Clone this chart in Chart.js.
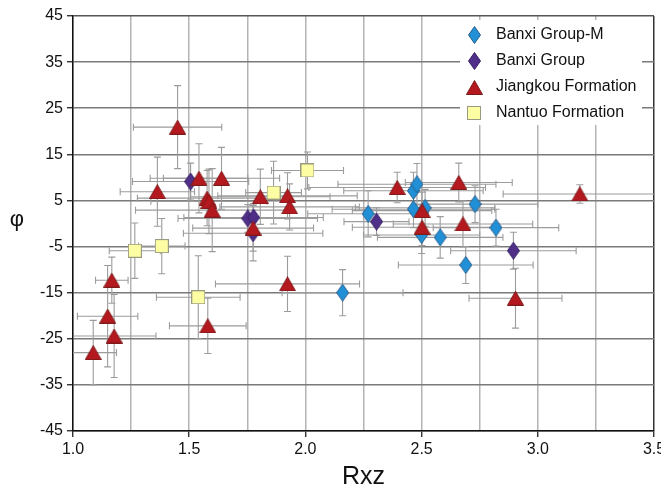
<!DOCTYPE html>
<html>
<head>
<meta charset="utf-8">
<script src="https://cdn.jsdelivr.net/npm/chart.js@4.4.1/dist/chart.umd.min.js"></script>
<style>
  html, body { margin: 0; padding: 0; background: #ffffff; }
  #wrap { width: 661px; height: 494px; position: relative; }
</style>
</head>
<body>
<div id="wrap"><canvas id="c" width="661" height="494"></canvas></div>
<script>
// ---------- data ----------
const seriesNames = ['Banxi Group-M', 'Banxi Group', 'Jiangkou Formation', 'Nantuo Formation'];
const xTickLabels = ['1.0', '1.5', '2.0', '2.5', '3.0', '3.5'];
const yTickLabels = ['45', '35', '25', '15', '5', '-5', '-15', '-25', '-35', '-45'];

const banxiMRxz    = [2.16, 2.27, 2.465, 2.48, 2.465, 2.515, 2.50, 2.58, 2.73, 2.82, 2.69];
const banxiMPhi    = [-15, 2.1, 7.1, 8.5, 3.1, 3.4, -2.5, -3.0, 4.2, -0.9, -9.0];
const banxiMErrRxz = [0.26, 0.26, 0.3, 0.34, 0.35, 0.3, 0.25, 0.27, 0.27, 0.27, 0.29];
const banxiMErrPhi = [5, 5, 4, 4.5, 4, 4, 4, 4.5, 4, 4, 4];

const banxiRxz    = [1.506, 1.752, 1.777, 1.775, 2.306, 2.895];
const banxiPhi    = [9.1, 1.1, 1.3, -2.1, 0.4, -5.9];
const banxiErrRxz = [0.25, 0.3, 0.3, 0.3, 0.14, 0.27];
const banxiErrPhi = [4, 3, 3, 6, 3, 4];

const jiangkouRxz    = [1.087, 1.149, 1.177, 1.167, 1.363, 1.45, 1.542, 1.639, 1.577, 1.585, 1.599, 1.775, 1.806, 1.923, 1.932, 1.923, 1.58, 2.395, 2.502, 2.502, 2.66, 2.678, 3.181, 2.904];
const jiangkouPhi    = [-28, -20.1, -24.4, -12.3, 6.9, 20.9, 9.8, 9.8, 5.5, 4.8, 2.9, -1.0, 5.8, 6.0, 3.6, -13.1, -22.2, 7.8, 2.8, -0.8, 8.9, -0.1, 6.4, -16.2];
const jiangkouErrRxz = [0.1, 0.13, 0.18, 0.07, 0.16, 0.19, 0.21, 0.25, 0.3, 0.25, 0.33, 0.26, 0.3, 0.3, 0.3, 0.31, 0.165, 0.38, 0.3, 0.3, 0.23, 0.3, 0.33, 0.2];
const jiangkouErrPhi = [7, 11, 9, 5, 7.5, 9, 7.5, 6.7, 6, 7, 9, 5, 6, 5, 5, 6, 6, 3.3, 4, 4, 4.2, 5, 2, 6.5];

const nantuoRxz    = [1.266, 1.382, 1.539, 1.863, 2.009];
const nantuoPhi    = [-5.9, -4.9, -16.0, 6.7, 11.5];
const nantuoErrRxz = [0.11, 0.1, 0.18, 0.12, 0.155];
const nantuoErrPhi = [6, 6, 9, 6.8, 4];

// ---------- marker images ----------
function makeCanvas(w, h) { const c = document.createElement('canvas'); c.width = w; c.height = h; return c; }
function diamond(fill, stroke) {
  const c = makeCanvas(13, 18), g = c.getContext('2d');
  g.beginPath(); g.moveTo(6.5, 0.5); g.lineTo(12.5, 9); g.lineTo(6.5, 17.5); g.lineTo(0.5, 9); g.closePath();
  g.fillStyle = fill; g.fill(); g.strokeStyle = stroke; g.lineWidth = 1; g.stroke(); return c;
}
function triangle(fill, stroke) {
  const c = makeCanvas(17, 15), g = c.getContext('2d');
  g.beginPath(); g.moveTo(8.5, 0.5); g.lineTo(16.5, 14.5); g.lineTo(0.5, 14.5); g.closePath();
  g.fillStyle = fill; g.fill(); g.strokeStyle = stroke; g.lineWidth = 1; g.stroke(); return c;
}
function square(fill, stroke) {
  const c = makeCanvas(14, 14), g = c.getContext('2d');
  g.fillStyle = fill; g.fillRect(0.5, 0.5, 13, 13);
  g.strokeStyle = stroke; g.lineWidth = 1; g.strokeRect(0.5, 0.5, 13, 13); return c;
}
const markers = [
  diamond('#2190d6', '#2a5f8f'),
  diamond('#4f2f87', '#3a2368'),
  triangle('#b3191f', '#7e1a1a'),
  square('#fdfda3', '#9a9a80')
];

function pts(xs, ys, exs, eys) { return xs.map((v, i) => ({ x: v, y: ys[i], ex: exs[i], ey: eys[i] })); }

const datasets = [
  { label: seriesNames[0], data: pts(banxiMRxz, banxiMPhi, banxiMErrRxz, banxiMErrPhi), pointStyle: markers[0], order: 4 },
  { label: seriesNames[1], data: pts(banxiRxz, banxiPhi, banxiErrRxz, banxiErrPhi), pointStyle: markers[1], order: 3 },
  { label: seriesNames[2], data: pts(jiangkouRxz, jiangkouPhi, jiangkouErrRxz, jiangkouErrPhi), pointStyle: markers[2], order: 1 },
  { label: seriesNames[3], data: pts(nantuoRxz, nantuoPhi, nantuoErrRxz, nantuoErrPhi), pointStyle: markers[3], order: 2 }
].map(d => Object.assign(d, { pointRadius: 6, showLine: false }));

// ---------- plugins ----------
const errorBars = {
  id: 'errorBars',
  beforeDatasetsDraw(chart) {
    const { ctx, chartArea: a, scales: { x, y } } = chart;
    ctx.save();
    ctx.beginPath(); ctx.rect(a.left, a.top, a.right - a.left, a.bottom - a.top); ctx.clip();
    ctx.strokeStyle = '#9c9c9c'; ctx.lineWidth = 1.1;
    const cap = 3.5;
    chart.data.datasets.forEach(ds => ds.data.forEach(p => {
      const px = x.getPixelForValue(p.x), py = y.getPixelForValue(p.y);
      const x1 = x.getPixelForValue(p.x - p.ex), x2 = x.getPixelForValue(p.x + p.ex);
      const y1 = y.getPixelForValue(p.y + p.ey), y2 = y.getPixelForValue(p.y - p.ey);
      ctx.beginPath();
      ctx.moveTo(x1, py); ctx.lineTo(x2, py);
      ctx.moveTo(x1, py - cap); ctx.lineTo(x1, py + cap);
      ctx.moveTo(x2, py - cap); ctx.lineTo(x2, py + cap);
      ctx.moveTo(px, y1); ctx.lineTo(px, y2);
      ctx.moveTo(px - cap, y1); ctx.lineTo(px + cap, y1);
      ctx.moveTo(px - cap, y2); ctx.lineTo(px + cap, y2);
      ctx.stroke();
    }));
    ctx.restore();
  }
};

const legendBox = {
  id: 'legendBox',
  afterDraw(chart) {
    const ctx = chart.ctx;
    ctx.save();
    ctx.fillStyle = '#ffffff';
    ctx.fillRect(460, 20, 182, 105);
    ctx.font = "16px 'Liberation Sans', Arial, sans-serif";
    ctx.fillStyle = '#111';
    ctx.textBaseline = 'middle';
    ctx.textAlign = 'left';
    const rows = [35, 61, 87, 113];
    seriesNames.forEach((n, i) => {
      const m = markers[i];
      ctx.drawImage(m, Math.round(474 - m.width / 2), Math.round(rows[i] - m.height / 2));
      ctx.fillText(n, 496, rows[i]);
    });
    // y axis title (upright)
    ctx.font = "22px 'Liberation Sans', Arial, sans-serif";
    ctx.textAlign = 'center';
    ctx.fillText('\u03C6', 17, 220);
    ctx.restore();
  }
};

Chart.defaults.font.family = "'Liberation Sans', Arial, sans-serif";
Chart.defaults.color = '#111';

new Chart(document.getElementById('c'), {
  type: 'scatter',
  data: { datasets },
  options: {
    responsive: false,
    animation: false,
    events: [],
    layout: { padding: { left: 0, right: 6, top: 16, bottom: 0 } },
    plugins: { legend: { display: false }, tooltip: { enabled: false } },
    scales: {
      x: {
        type: 'linear', min: 1, max: 3.5,
        afterFit(s) { s.height = 63; s.paddingLeft = 0; s.paddingRight = 0; s.paddingTop = 0; s.paddingBottom = 0; },
        ticks: {
          stepSize: 0.25, autoSkip: false, maxRotation: 0, padding: 3,
          font: { size: 16 }, color: '#111',
          callback: v => { const i = xTickLabels.indexOf(Number(v).toFixed(1)); return (Math.abs(v * 2 - Math.round(v * 2)) < 1e-6 && i >= 0) ? xTickLabels[i] : ''; }
        },
        grid: {
          color: c => (c.tick && Math.abs(c.tick.value - 3.5) < 1e-6) ? '#333' : '#b4b4b4',
          lineWidth: 1.5,
          tickLength: 6,
          tickColor: c => (c.tick && Math.abs(c.tick.value * 2 - Math.round(c.tick.value * 2)) < 1e-6) ? '#111' : 'rgba(0,0,0,0)',
          tickWidth: 1.2
        },
        border: { color: '#111', width: 1.5 },
        title: { display: true, text: 'Rxz', font: { size: 25 }, color: '#111', padding: { top: 0, bottom: 2 } }
      },
      y: {
        type: 'linear', min: -45, max: 45,
        afterFit(s) { s.width = 73; s.paddingLeft = 0; s.paddingRight = 0; s.paddingTop = 0; s.paddingBottom = 0; },
        ticks: {
          stepSize: 10, padding: 4, font: { size: 16 }, color: '#111',
          callback: v => { const s = String(Math.round(v)); return yTickLabels.includes(s) ? s : ''; }
        },
        grid: {
          color: c => (c.tick && c.tick.value === 45) ? '#555' : '#7a7a7a',
          lineWidth: 1.5,
          tickLength: 6,
          tickColor: '#111',
          tickWidth: 1.2
        },
        border: { color: '#111', width: 1.5 }
      }
    }
  },
  plugins: [errorBars, legendBox]
});
</script>
</body>
</html>
